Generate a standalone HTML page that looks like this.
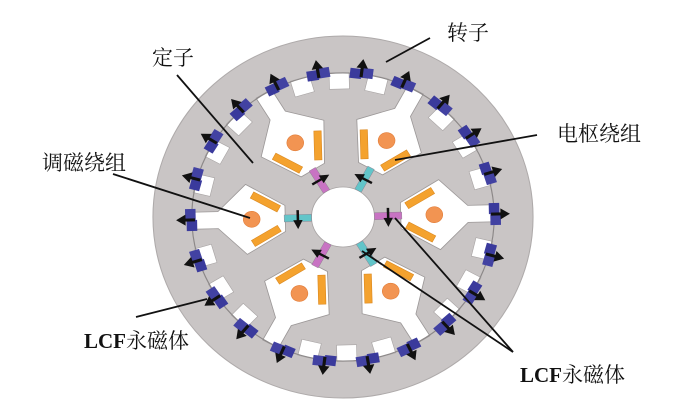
<!DOCTYPE html>
<html>
<head>
<meta charset="utf-8">
<style>
  html,body{margin:0;padding:0;background:#fff;}
  svg{display:block;}
  text{font-family:"Liberation Serif","Noto Serif CJK SC",serif;font-size:21px;fill:#111;}
</style>
</head>
<body>
<svg width="700" height="419" viewBox="0 0 700 419" xmlns="http://www.w3.org/2000/svg">
  <defs>
    <g id="slot">
      <polygon points="55,-13 92,-35 119,-8.5 144.5,-8.5 144.5,8.5 119,8.5 92,35 55,13" fill="#fff" stroke="#9c9898" stroke-width="0.8"/>
      <g transform="translate(73.5,-17) rotate(-30)">
        <rect x="-14.5" y="-3.5" width="29" height="7" fill="#f4a22e" stroke="#dc8a22" stroke-width="0.6"/>
      </g>
      <g transform="translate(73.5,17) rotate(30)">
        <rect x="-14.5" y="-3.5" width="29" height="7" fill="#f4a22e" stroke="#dc8a22" stroke-width="0.6"/>
      </g>
      <circle cx="87" cy="0" r="8" fill="#f29452" stroke="#e27e3a" stroke-width="0.6"/>
    </g>
    <g id="mag">
      <rect x="30" y="-3.5" width="26" height="7" stroke="#8a7a8a" stroke-width="0.4"/>
      <rect x="41.8" y="-8" width="2.4" height="11" fill="#111"/>
      <polygon points="38.5,2 47.5,2 43,11" fill="#111"/>
    </g>
    <rect id="sq" x="128" y="-9.5" width="16.5" height="19" fill="#fff" stroke="#a8a4a4" stroke-width="0.6"/>
    <g id="rm">
      <rect x="139" y="-11" width="10" height="11" fill="#3a3a9c"/>
      <rect x="140.3" y="0" width="10" height="11" fill="#4242a2"/>
      <rect x="141" y="-1.5" width="10" height="3" fill="#111"/>
      <polygon points="150,-5.5 159,0 150,5.5" fill="#111"/>
    </g>
  </defs>

  <g transform="translate(343,217) scale(1.05,1)">
    <!-- rotor / stator body -->
    <circle cx="0" cy="0" r="181" fill="#c9c5c5" stroke="#aeaaaa" stroke-width="1"/>

    <!-- stator slots -->
    <use href="#slot" transform="rotate(-1.5)"/>
    <use href="#slot" transform="rotate(58.5)"/>
    <use href="#slot" transform="rotate(118.5)"/>
    <use href="#slot" transform="rotate(178.5)"/>
    <use href="#slot" transform="rotate(238.5)"/>
    <use href="#slot" transform="rotate(298.5)"/>

    <!-- small squares -->
    <use href="#sq" transform="rotate(-91.5)"/>
    <use href="#sq" transform="rotate(-76.5)"/>
    <use href="#sq" transform="rotate(-46.5)"/>
    <use href="#sq" transform="rotate(-31.5)"/>
    <use href="#sq" transform="rotate(-16.5)"/>
    <use href="#sq" transform="rotate(13.5)"/>
    <use href="#sq" transform="rotate(28.5)"/>
    <use href="#sq" transform="rotate(43.5)"/>
    <use href="#sq" transform="rotate(73.5)"/>
    <use href="#sq" transform="rotate(88.5)"/>
    <use href="#sq" transform="rotate(103.5)"/>
    <use href="#sq" transform="rotate(133.5)"/>
    <use href="#sq" transform="rotate(148.5)"/>
    <use href="#sq" transform="rotate(163.5)"/>
    <use href="#sq" transform="rotate(193.5)"/>
    <use href="#sq" transform="rotate(208.5)"/>
    <use href="#sq" transform="rotate(223.5)"/>
    <use href="#sq" transform="rotate(253.5)"/>

    <!-- air gap ring -->
    <circle cx="0" cy="0" r="144" fill="none" stroke="#8c8888" stroke-width="1.1"/>

    <!-- center hole -->
    <circle cx="0" cy="0" r="30" fill="#fff" stroke="#a8a4a4" stroke-width="0.8"/>

    <!-- stator magnets -->
    <use href="#mag" fill="#c873c3" transform="rotate(-1.5)"/>
    <use href="#mag" fill="#62c5c9" transform="rotate(58.5) scale(1,-1)"/>
    <use href="#mag" fill="#c873c3" transform="rotate(118.5)"/>
    <use href="#mag" fill="#62c5c9" transform="rotate(178.5) scale(1,-1)"/>
    <use href="#mag" fill="#c873c3" transform="rotate(238.5)"/>
    <use href="#mag" fill="#62c5c9" transform="rotate(298.5) scale(1,-1)"/>

    <!-- rotor magnets -->
    <use href="#rm" transform="rotate(-83)"/>
    <use href="#rm" transform="rotate(-66.64)"/>
    <use href="#rm" transform="rotate(-50.27)"/>
    <use href="#rm" transform="rotate(-33.91)"/>
    <use href="#rm" transform="rotate(-17.55)"/>
    <use href="#rm" transform="rotate(-1.18)"/>
    <use href="#rm" transform="rotate(15.18)"/>
    <use href="#rm" transform="rotate(31.55)"/>
    <use href="#rm" transform="rotate(47.91)"/>
    <use href="#rm" transform="rotate(64.27)"/>
    <use href="#rm" transform="rotate(80.64)"/>
    <use href="#rm" transform="rotate(97)"/>
    <use href="#rm" transform="rotate(113.36)"/>
    <use href="#rm" transform="rotate(129.73)"/>
    <use href="#rm" transform="rotate(146.09)"/>
    <use href="#rm" transform="rotate(162.45)"/>
    <use href="#rm" transform="rotate(178.82)"/>
    <use href="#rm" transform="rotate(195.18)"/>
    <use href="#rm" transform="rotate(211.55)"/>
    <use href="#rm" transform="rotate(227.91)"/>
    <use href="#rm" transform="rotate(244.27)"/>
    <use href="#rm" transform="rotate(260.64)"/>
  </g>

  <!-- leader lines -->
  <g stroke="#111" stroke-width="1.8" fill="none">
    <line x1="430" y1="38" x2="386" y2="62"/>
    <line x1="177" y1="75" x2="253" y2="163"/>
    <line x1="113" y1="174" x2="250" y2="218"/>
    <line x1="537" y1="135" x2="395" y2="160"/>
    <line x1="136" y1="317" x2="207" y2="299"/>
    <line x1="513" y1="352" x2="395" y2="218"/>
    <line x1="513" y1="352" x2="362" y2="251"/>
  </g>

  <!-- labels -->
  <text x="447" y="40">转子</text>
  <text x="152" y="65">定子</text>
  <text x="42" y="170">调磁绕组</text>
  <text x="557" y="141">电枢绕组</text>
  <text x="84" y="348"><tspan font-weight="bold">LCF</tspan>永磁体</text>
  <text x="520" y="382"><tspan font-weight="bold">LCF</tspan>永磁体</text>
</svg>
</body>
</html>
